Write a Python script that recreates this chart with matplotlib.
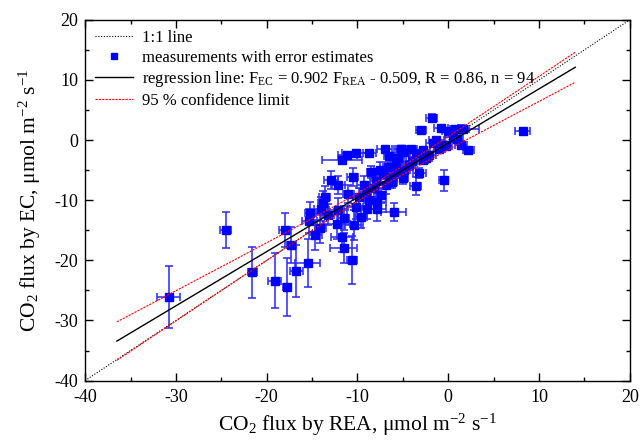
import numpy as np
import matplotlib
matplotlib.use("Agg")
import matplotlib.pyplot as plt
from matplotlib.ticker import MultipleLocator

plt.rcParams['font.family'] = ['Liberation Serif', 'DejaVu Serif']
plt.rcParams['mathtext.fontset'] = 'custom'
plt.rcParams['mathtext.rm'] = 'Liberation Serif'
plt.rcParams['mathtext.it'] = 'Liberation Serif:italic'
plt.rcParams['axes.unicode_minus'] = False

# flux by REA (x), flux by EC (y) with their error estimates, umol m-2 s-1
rea = [-24.5, -30.8, -21.6, -19.1, -18.0, -17.75, -17.3, -16.75, -15.5, -15.2,
       -14.65, -14.1, -13.8, -13.6, -12.9, -12.1, -12.3, -11.7, -11.5, -10.6,
       -10.4, -10.5, -11.7, -11.1, -10.2, -8.7, -7.0, -8.5, -7.55, -8.9,
       -7.8, -7.8, -6.0, -9.85, -9.3, -8.2, -9.1, -10.2, -8.7, -6.9,
       -6.3, -5.7, -5.8, -14.0, -12.1, -11.0, -11.5, -1.8, -3.0, -5.2,
       -4.1, -2.8, -1.3, 0.0, 1.4, 0.5, 1.4, 2.2, -0.5, -3.6,
       -2.1, -2.8, -4.3, -6.2, -4.9, -1.7, -0.4, 8.2, -6.5, -5.5,
       -3.5, -1.0, 0.8, -7.2, -6.6, -5.0, -4.0, -3.2, 1.0, -0.8,
       -4.9, -5.2, -15.3, -13.2, -9.6, -7.4, -2.4, -0.2, 1.6, -8.0]
ec = [-15.0, -26.1, -22.0, -23.4, -14.9, -24.4, -17.5, -21.8, -20.4, -12.1,
      -15.8, -14.7, -10.5, -9.4, -6.7, -7.5, -13.9, -16.1, -18.0, -19.9,
      -14.1, -6.1, -3.3, -2.5, -2.2, -2.1, -1.5, -5.3, -4.9, -11.4,
      -11.4, -10.3, -11.9, -9.4, -7.5, -8.0, -8.6, -11.1, -10.0, -7.5,
      -6.1, -3.9, -5.3, -11.5, -11.6, -9.0, -13.0, 3.7, 1.7, -1.4,
      -1.4, -1.7, 0.0, 1.5, 1.9, 0.55, -0.8, -1.7, -6.7, -7.7,
      -2.5, -3.3, -4.2, -6.9, -5.0, -0.55, -0.8, 1.5, -2.7, -3.0,
      -2.2, -1.5, 1.8, -5.6, -4.4, -6.3, -3.5, -5.5, 0.2, 2.0,
      -2.0, -1.5, -13.5, -12.4, -12.8, -9.2, -3.0, -1.0, 1.9, -6.8]
rea_err = [0.6, 1.3, 0.5, 0.7, 0.6, 0.4, 0.5, 0.7, 1.4, 0.6,
           0.7, 0.6, 0.5, 0.6, 0.8, 0.7, 1.5, 1.2, 1.5, 0.5,
           1.0, 0.6, 2.2, 1.0, 1.5, 0.7, 0.8, 0.5, 0.6, 1.2,
           1.0, 1.0, 1.4, 0.6, 0.7, 0.6, 0.6, 0.8, 0.6, 0.8,
           0.6, 0.7, 0.6, 0.8, 1.0, 0.6, 0.6, 0.6, 0.6, 0.8,
           0.7, 0.8, 0.8, 0.7, 2.0, 0.8, 0.7, 0.6, 0.5, 0.6,
           0.7, 0.6, 0.6, 0.6, 0.7, 0.8, 0.6, 0.8, 0.6, 0.6,
           0.8, 0.6, 0.6, 0.6, 0.6, 0.6, 0.7, 0.7, 0.6, 0.8,
           0.7, 0.6, 0.8, 0.6, 0.7, 0.6, 0.6, 0.6, 0.7, 0.6]
ec_err = [3.0, 5.1, 4.3, 4.6, 2.8, 4.8, 3.0, 4.3, 4.0, 1.8,
          2.5, 2.4, 2.0, 1.8, 1.5, 1.5, 2.5, 2.5, 2.5, 4.0,
          2.5, 1.5, 0.7, 0.5, 0.5, 0.5, 0.4, 1.0, 1.2, 1.8,
          2.0, 1.5, 1.5, 1.5, 1.5, 1.5, 1.5, 2.0, 1.5, 1.5,
          1.2, 1.0, 1.0, 2.0, 2.0, 1.5, 2.0, 0.6, 0.4, 0.4,
          0.4, 0.5, 0.5, 0.5, 0.6, 0.5, 0.6, 0.6, 1.8, 1.5,
          0.6, 0.7, 0.8, 1.0, 0.8, 0.5, 0.5, 0.4, 0.5, 0.6,
          0.5, 0.5, 0.5, 0.8, 0.8, 1.0, 0.7, 0.8, 0.5, 0.5,
          0.5, 0.5, 2.0, 1.8, 1.8, 1.2, 0.6, 0.5, 0.5, 1.0]

# regression and its 95 % band (half width grows away from mean REA flux)
slope, intercept = 0.902, -0.509
fit_range = [-36.5, 14.0]
band_x_mean, band_a, band_b = -8.0, 0.4, 0.0121

fig, ax = plt.subplots(figsize=(6.4, 4.41), dpi=100)
fig.subplots_adjust(left=0.133, right=0.984, top=0.955, bottom=0.137)

ax.plot([-40, 20], [-40, 20], color='black', linestyle=(0, (1, 1.5)), linewidth=0.8,
        label='1:1 line', zorder=4)

ax.errorbar(rea, ec, xerr=rea_err, yerr=ec_err, fmt='none', ecolor='#2a2aff',
            elinewidth=1.4, capsize=3, capthick=1.4, alpha=0.8, zorder=2)
ax.plot(rea, ec, linestyle='none', marker='s', markersize=5.5, color='#0000ff',
        label='measurements with error estimates', zorder=3)

xs = np.linspace(fit_range[0], fit_range[1], 200)
reg = slope * xs + intercept
half = np.sqrt(band_a + band_b * (xs - band_x_mean) ** 2)
ax.plot(xs, reg, color='black', linewidth=1.0,
        label=r'regression line: F$_{\mathrm{EC}}$ = 0.902 F$_{\mathrm{REA}}$ - 0.509, R = 0.86, n = 94',
        zorder=5)
ax.plot(xs, reg + half, color='red', linestyle=(0, (2, 1)), linewidth=0.8,
        label='95 % confidence limit', zorder=5)
ax.plot(xs, reg - half, color='red', linestyle=(0, (2, 1)), linewidth=0.8, zorder=5)

ax.set_xlim(-40, 20)
ax.set_ylim(-40, 20)
ax.xaxis.set_major_locator(MultipleLocator(10))
ax.xaxis.set_minor_locator(MultipleLocator(5))
ax.yaxis.set_major_locator(MultipleLocator(10))
ax.yaxis.set_minor_locator(MultipleLocator(5))
ax.tick_params(which='both', direction='in', top=True, right=True, labelsize=13)
ax.tick_params(which='major', length=6, width=1.0)
ax.tick_params(which='minor', length=3, width=1.0)
ax.tick_params(axis='x', which='major', pad=6)
ax.tick_params(axis='y', which='major', pad=5)
for s in ax.spines.values():
    s.set_linewidth(1.0)

ax.set_xlabel(r'CO$_2$ flux by REA, μmol m$^{-2}$ s$^{-1}$', fontsize=15.5, labelpad=4)
ax.set_ylabel(r'CO$_2$ flux by EC, μmol m$^{-2}$ s$^{-1}$', fontsize=15.5, labelpad=8)

ax.legend(loc='upper left', frameon=False, fontsize=12, handlelength=2.3,
          handletextpad=0.5, labelspacing=0.22, borderaxespad=0.2,
          borderpad=0.4, markerscale=0.9)

plt.savefig('out.png', dpi=100)
